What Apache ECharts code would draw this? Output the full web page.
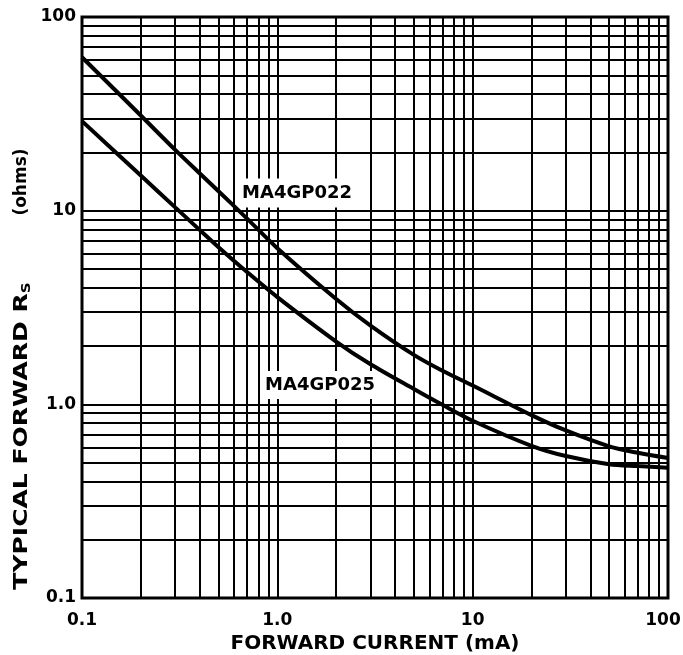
<!DOCTYPE html>
<html>
<head>
<meta charset="utf-8">
<script src="https://cdn.jsdelivr.net/npm/echarts@6/dist/echarts.min.js"></script>
<style>
  html, body { margin: 0; padding: 0; background: #fff; }
  #myChart { width: 683px; height: 655px; }
</style>
</head>
<body>
<div id="myChart"></div>
<script>
// forward current (mA) and typical forward Rs (ohms)
var currentMA = [0.1, 0.2, 0.3, 0.4, 0.5, 0.7, 1, 2, 3, 5, 7, 10, 20, 30, 50, 70, 100];
var rsMA4GP022 = [62, 31, 20.6, 15.6, 12.6, 9.1, 6.4, 3.5, 2.55, 1.8, 1.49, 1.25, 0.88, 0.733, 0.607, 0.562, 0.528];
var rsMA4GP025 = [29, 15.2, 10.4, 7.96, 6.48, 4.82, 3.58, 2.11, 1.61, 1.2, 0.994, 0.823, 0.611, 0.541, 0.491, 0.48, 0.47];

var xTickValues = [0.1, 1, 10, 100];
var xTickLabels = ['0.1', '1.0', '10', '{last|100}'];
var yTickValues = [0.1, 1, 10, 100];
var yTickLabels = ['0.1', '1.0', '10', '100'];

// log paper: 1..9 in every decade
var gridValues = [];
[0.1, 1, 10].forEach(function (d) {
  for (var k = 1; k <= 9; k++) gridValues.push(+(d * k).toPrecision(3));
});
gridValues.push(100);

function tickText(values, labels) {
  return function (v) {
    for (var i = 0; i < values.length; i++) {
      if (Math.abs(Math.log10(v) - Math.log10(values[i])) < 1e-6) return labels[i];
    }
    return '';
  };
}

function pairs(ys) {
  return currentMA.map(function (x, i) { return [x, ys[i]]; });
}

var font = '"DejaVu Sans", sans-serif';
var myChart = echarts.init(document.getElementById('myChart'));
myChart.setOption({
  animation: false,
  backgroundColor: '#fff',
  grid: {
    left: 82, top: 17, right: 15, bottom: 57,
    outerBoundsMode: 'none', containLabel: false,
    show: true, borderColor: '#000', borderWidth: 3, backgroundColor: '#fff'
  },
  xAxis: {
    type: 'log', logBase: 10, min: 0.1, max: 100,
    name: 'FORWARD CURRENT (mA)',
    nameLocation: 'middle', nameGap: 34,
    nameTextStyle: { color: '#000', fontFamily: font, fontWeight: 'bold', fontSize: 20 },
    axisLine: { show: false },
    axisTick: { show: false },
    splitLine: { show: false },
    axisLabel: {
      color: '#000', fontFamily: font, fontWeight: 'bold', fontSize: 17, margin: 14,
      formatter: tickText(xTickValues, xTickLabels),
      rich: { last: { fontFamily: font, fontWeight: 'bold', fontSize: 17, padding: [0, 10, 0, 0] } }
    }
  },
  yAxis: {
    type: 'log', logBase: 10, min: 0.1, max: 100,
    axisLine: { show: false },
    axisTick: { show: false },
    splitLine: { show: false },
    axisLabel: {
      color: '#000', fontFamily: font, fontWeight: 'bold', fontSize: 17, margin: 6,
      formatter: tickText(yTickValues, yTickLabels)
    }
  },
  graphic: [
    {
      type: 'text', x: 22, y: 436, rotation: Math.PI / 2, scaleX: 1.25, z: 100,
      style: {
        text: 'TYPICAL FORWARD R{s|S}',
        rich: { s: { fontSize: 12, fontWeight: 'bold', fontFamily: font, padding: [9, 0, 0, 0] } },
        fill: '#000', font: 'bold 20px ' + font, align: 'center', verticalAlign: 'middle'
      }
    },
    {
      type: 'text', x: 22, y: 182, rotation: Math.PI / 2, z: 100,
      style: { text: '(ohms)', fill: '#000', font: 'bold 17px ' + font, align: 'center', verticalAlign: 'middle' }
    },
    {
      type: 'text', x: 297, y: 193, z: 100,
      style: {
        text: 'MA4GP022', fill: '#000', font: 'bold 18px ' + font,
        align: 'center', verticalAlign: 'middle', backgroundColor: '#fff', padding: [6, 3, 5, 3]
      }
    },
    {
      type: 'text', x: 320, y: 385, z: 100,
      style: {
        text: 'MA4GP025', fill: '#000', font: 'bold 18px ' + font,
        align: 'center', verticalAlign: 'middle', backgroundColor: '#fff', padding: [5, 3, 5, 3]
      }
    }
  ],
  series: [
    {
      type: 'line', data: [], silent: true, z: 1,
      markLine: {
        silent: true, symbol: 'none', animation: false,
        label: { show: false },
        lineStyle: { color: '#000', width: 2, type: 'solid' },
        data: gridValues.map(function (v) { return { xAxis: v }; })
          .concat(gridValues.map(function (v) { return { yAxis: v }; }))
      }
    },
    {
      name: 'MA4GP022', type: 'line', data: pairs(rsMA4GP022), z: 3,
      smooth: 0.3, showSymbol: false,
      lineStyle: { color: '#000', width: 4 }
    },
    {
      name: 'MA4GP025', type: 'line', data: pairs(rsMA4GP025), z: 3,
      smooth: 0.3, showSymbol: false,
      lineStyle: { color: '#000', width: 4 }
    }
  ]
});
</script>
</body>
</html>
